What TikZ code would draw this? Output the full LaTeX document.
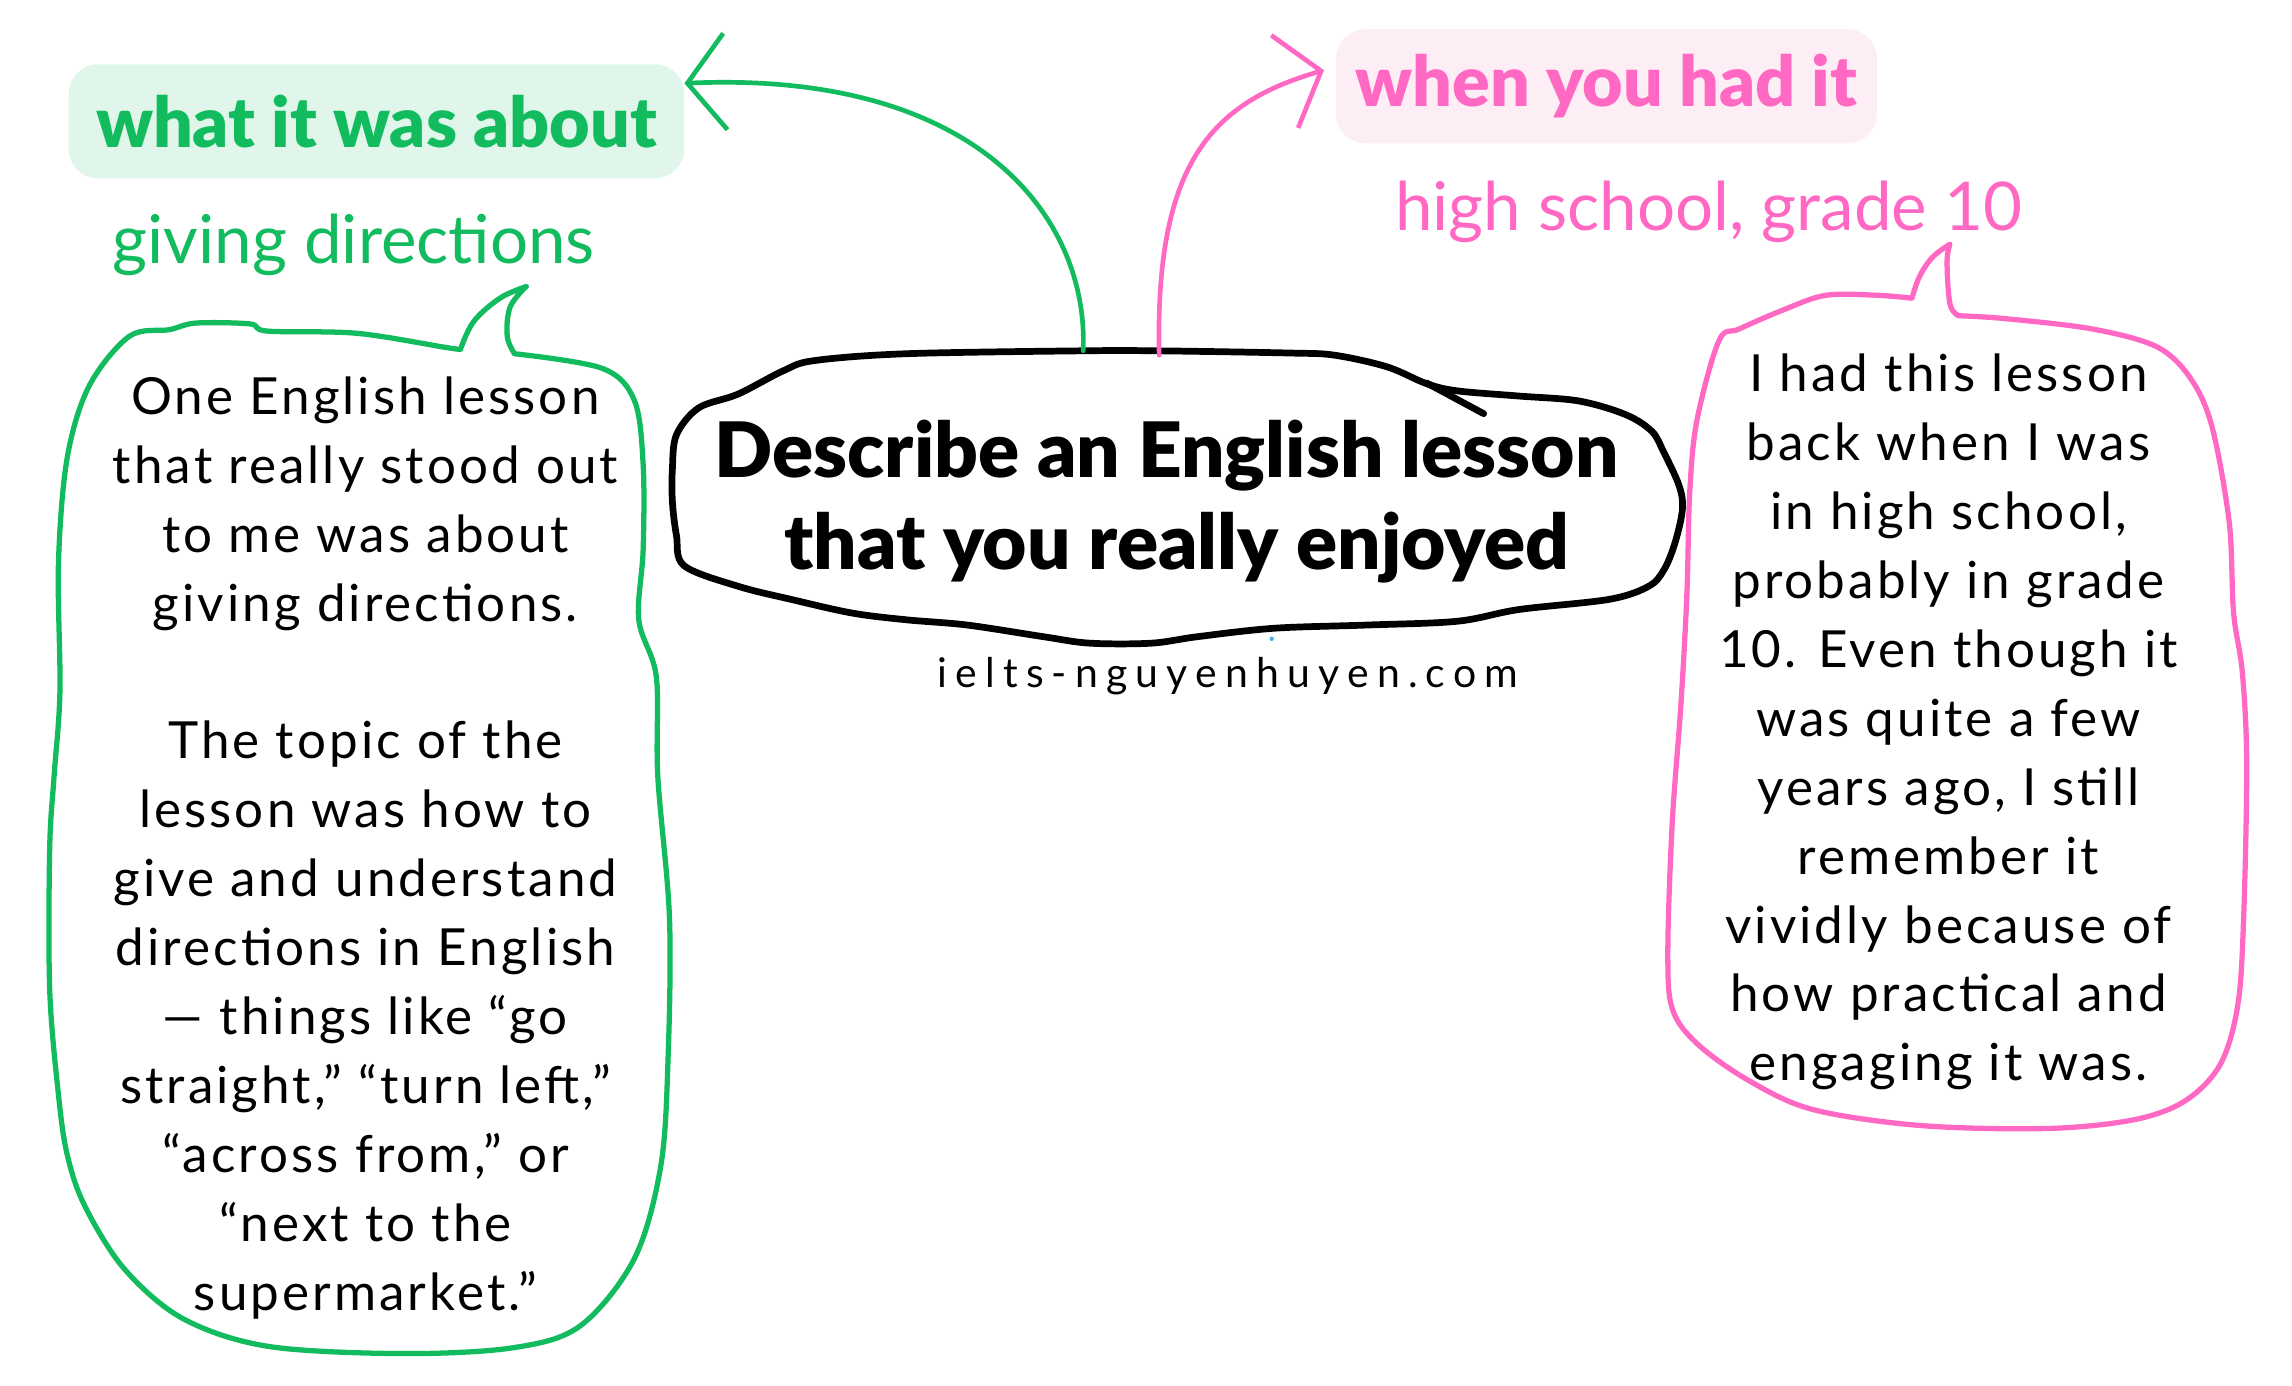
\documentclass[tikz,border=0pt]{standalone}
\usepackage{fontspec}
\setmainfont{Lato}
\newfontfamily\bodyfont[LetterSpace=6]{Lato}
\newfontfamily\webfont[LetterSpace=20]{Lato}
\newfontfamily\heavyfont{Lato Black}
\usetikzlibrary{arrows.meta}
\definecolor{gr}{HTML}{12BC5E}
\definecolor{grfill}{HTML}{E0F6EA}
\definecolor{pk}{HTML}{FF69C4}
\definecolor{pkfill}{HTML}{FDEEF5}
\definecolor{dotblue}{HTML}{4AB0F0}
\begin{document}
\begin{tikzpicture}[x=1pt,y=-1pt,
  labbox/.style={rounded corners=20pt, inner sep=0pt, font=\heavyfont\fontsize{47.8}{56}\selectfont},
  subtxt/.style={font=\fontsize{46}{55}\selectfont, anchor=base},
  bodytxt/.style={align=center, font=\bodyfont\fontsize{35}{47.15}\selectfont, inner sep=0pt},
  bubble/.style={line width=3.6pt, line join=round, line cap=round},
  conn/.style={line width=3.2pt, line cap=round, -{Straight Barb[length=26pt,width=66pt]}},
]
\fill[white] (0,0) rectangle (1568,948);
\useasboundingbox (0,0) rectangle (1568,948);

% labels
\node[labbox, fill=grfill, text=gr, minimum width=421pt, minimum height=78pt] (wlab) at (257.5,83) {what it was about};
\node[labbox, fill=pkfill, text=pk, minimum width=370pt, minimum height=78pt] (plab) at (1099,59) {when you had it};
\node[subtxt, text=gr] (gsub) at (242,180) {giving directions};
\node[subtxt, text=pk] (psub) at (1169,158) {high school, grade 10};

% title bubble
\draw[line width=4.6pt, line join=round] plot[smooth cycle, tension=0.55] coordinates {
(557,246.7) (619.7,242) (740,240) (792,240) (882,241.5) (913,243) (949,251) (976,262.5)
(997,267.4) (1038.6,270.9) (1080,274.3) (1112,283.6) (1130,295) (1138,309) (1148.6,332)
(1151,348) (1146,371) (1138.5,389.5) (1128,401) (1101,410) (1039,417) (997,425) (935,427.6)
(871.5,429.8) (819,435.6) (787.7,440) (745.6,440) (714,435.6) (661.7,427.6) (620,424)
(583,419.4) (541,410) (504.7,401) (468,387) (462.8,366.5) (460,343.4) (460,320.4)
(462.8,297.4) (478,279) (504.7,269.7) (536,253.6)};
\draw[line width=4.6pt, line cap=round] (976,262) -- (1015,283);
\node[align=center, font=\heavyfont\fontsize{52.3}{63}\selectfont, inner sep=0pt] (title) at (798,343) {Describe an English lesson\\\hspace*{14pt}that you really enjoyed};
\node[font=\webfont\fontsize{28}{34}\selectfont, anchor=base] (web) at (840,470) {ielts-nguyenhuyen.com};
\fill[dotblue] (870,437) circle (1.5pt);

% green bubble
\draw[bubble, gr] plot[smooth, tension=0.55] coordinates {(352,242) (412,252) (434,274) (440,318) (440,376) (437,424) (449,463) (450,531) (458,628) (457,725) (452,798) (434,861) (397,907) (351,922) (275,926) (183,921) (125,902) (85,868) (58,825) (46,790) (40,749) (34,677) (34,580) (37,531) (41,473) (40,385) (46,313) (61,264) (88.6,230) (116,225.5) (134,221) (171,221.6) (183,226.5) (244,228) (305,237.7) (315,239)}
 -- plot[smooth, tension=0.6] coordinates {(315,239) (324,220) (342,204) (360,196)}
 -- plot[smooth, tension=0.6] coordinates {(360,196) (349,210) (347,230) (352,242)};
\node[bodytxt] (gbody) at (250,580) {One English lesson\\that really stood out\\to me was about\\giving directions.\\[47.15pt]The topic of the\\lesson was how to\\give and understand\\directions in English\\— things like “go\\straight,” “turn left,”\\“across from,” or\\“next to the\\supermarket.”};

% pink bubble
\draw[bubble, pk] plot[smooth, tension=0.55] coordinates {(1340,216) (1372,218) (1431,225) (1475,237) (1498,258) (1513,291) (1525,357) (1528,419) (1534,460) (1537,522) (1535,625) (1531,687) (1519,728) (1495,753) (1460,766) (1401,772) (1314,770) (1240,759) (1196,739) (1161,714) (1144,690) (1141,650) (1144,563) (1150,481) (1154,407) (1156,336) (1161,287) (1176,233) (1190,225) (1220,212) (1249,202) (1284,202) (1308,204)}
 -- plot[smooth, tension=0.6] coordinates {(1308,204) (1313,189.5) (1322,176) (1334,167)}
 -- plot[smooth, tension=0.6] coordinates {(1334,167) (1332,179) (1334,208) (1340,216)};
\node[bodytxt] (pbody) at (1333,494) {I had this lesson\\back when I was\\in high school,\\probably in grade\\10. Even though it\\was quite a few\\years ago, I still\\remember it\\vividly because of\\how practical and\\engaging it was.};

% connectors
\coordinate (gs) at (741,240);
\coordinate (ps) at (793,243);
\draw[conn, gr] (gs) .. controls (745,150) and (670,48) .. ([yshift=26pt]wlab.east);
\draw[conn, pk] (ps) .. controls (790,110) and (830,70) .. ([xshift=-8pt,yshift=11pt]plab.west);
\end{tikzpicture}
\end{document}
